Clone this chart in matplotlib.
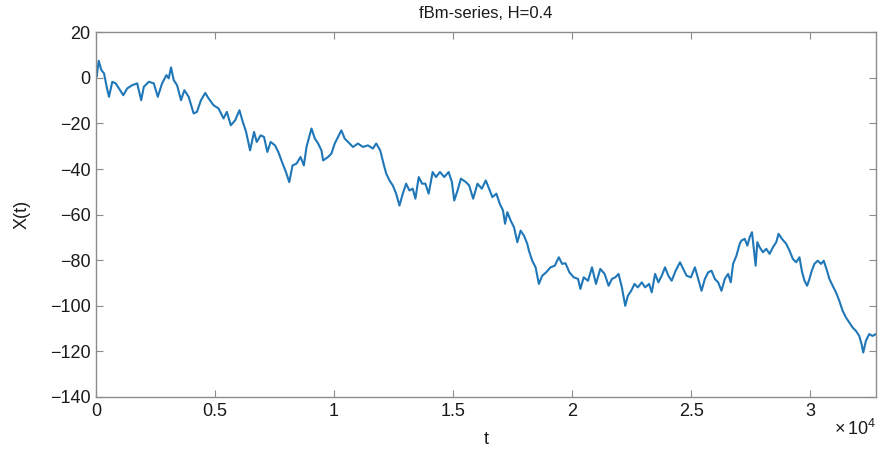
import matplotlib
matplotlib.use("Agg")
import matplotlib.pyplot as plt

# Valeurs (t, X(t))
t = [0, 28, 112, 223, 335, 446, 544, 683, 823, 962, 1144, 1311, 1520, 1729, 1897,
     2008, 2218, 2427, 2594, 2775, 2957, 3054, 3152, 3264, 3403, 3571, 3710, 3891,
     4100, 4240, 4407, 4588, 4728, 4937, 5146, 5356,
     5495, 5662, 5844, 6025, 6165, 6304, 6471, 6639, 6750, 6918, 7057, 7197, 7336,
     7518, 7657, 7838, 7978, 8117, 8257, 8424, 8591, 8731, 8842, 8954, 9051, 9191,
     9331, 9470, 9540, 9749, 9888, 10028, 10167, 10307, 10446, 10655,
     10795, 11004, 11213, 11423, 11632, 11771, 11939, 12078, 12190, 12329, 12469,
     12608, 12748, 12887, 13027, 13166, 13305, 13417, 13557, 13696, 13835, 13975,
     14142, 14282, 14449, 14631, 14812, 14951, 15049, 15188, 15328, 15537, 15676,
     15844, 16025, 16206,
     16374, 16513, 16653, 16820, 16960, 17099, 17183, 17280, 17420, 17559, 17699,
     17838, 17978, 18117, 18187, 18326, 18466, 18605, 18745, 18912, 19094, 19275,
     19442, 19582, 19721, 19888, 20070, 20251, 20349, 20488, 20669, 20837, 21004,
     21185, 21367, 21534,
     21674, 21813, 21953, 22092, 22232, 22343, 22483, 22622, 22762, 22929, 23068,
     23236, 23347, 23487, 23626, 23766, 23905, 24045, 24184, 24351, 24533, 24672,
     24812, 24993, 25160, 25300, 25439, 25579, 25718, 25858, 25997, 26137, 26276,
     26416, 26555, 26667, 26764, 26904, 27043,
     27113, 27252, 27364, 27462, 27559, 27643, 27712, 27782, 27880, 28019, 28159,
     28298, 28438, 28577, 28675, 28814, 28996, 29135, 29275, 29414, 29554, 29651,
     29763, 29874, 29972, 30070, 30181, 30321, 30460, 30572, 30711, 30809, 30948,
     31088, 31227, 31367, 31506, 31646, 31785, 31925, 32064, 32162, 32232, 32343,
     32483, 32622, 32768]

X = [1.0, 0.5, 7.5, 3.4, 2.0, -3.9, -8.3, -1.7, -2.4, -4.6, -7.6, -4.6, -3.2, -2.4, -9.8,
     -3.9, -1.7, -2.4, -8.3, -2.4, 1.2, -0.2, 4.6, -1.0, -3.2, -9.8, -5.4, -8.3,
     -15.6, -14.9, -9.8, -6.6, -9.0, -12.0, -13.4, -17.8,
     -14.9, -20.8, -18.6, -14.2, -19.3, -23.7, -31.8, -23.7, -28.1, -25.2, -25.9, -32.5,
     -28.1, -29.6, -32.5, -37.6, -41.3, -45.7, -38.4, -37.6, -34.7, -38.4, -30.3, -25.9,
     -22.2, -26.6, -28.8, -31.8, -36.2, -34.7, -33.2, -28.8, -25.9, -23.0, -26.6, -28.8,
     -30.3, -28.8, -30.3, -29.6, -31.0, -28.8, -31.8, -37.6, -42.0, -45.0, -47.2, -50.8,
     -56.0, -50.8, -46.4, -49.4, -48.6, -53.0, -43.5, -46.4, -46.4, -50.8, -41.3, -43.5,
     -41.3, -43.5, -41.3, -45.7, -53.8, -49.4, -44.2, -45.7, -47.2, -53.0, -46.4, -48.6,
     -45.0, -48.6, -52.3, -50.8, -55.2, -58.2, -64.0, -58.9, -62.6, -65.5, -72.1, -67.0,
     -69.2, -72.8, -75.8, -80.2, -83.1, -90.4, -86.8, -85.3, -83.1, -82.4, -78.7, -81.6,
     -81.3, -85.3, -87.5, -88.2, -92.6, -87.5, -89.0, -83.1, -90.4, -83.8, -86.0, -91.2,
     -88.2, -87.5, -86.0, -91.9, -100.0, -95.6, -93.4, -90.4, -91.9, -89.7, -91.9, -90.4,
     -94.1, -86.0, -89.7, -86.8, -83.1, -86.8, -89.0, -84.6, -80.9, -83.8, -86.8, -87.5,
     -83.1, -88.2, -93.4, -88.2, -85.3, -84.6, -88.2, -89.7, -93.4, -88.2, -86.0, -89.7,
     -81.6, -78.0, -72.8,
     -71.4, -70.6, -73.6, -69.9, -67.7, -75.8, -82.4, -72.1, -74.3, -76.5, -75.0, -77.2,
     -74.3, -72.1, -68.4, -70.6, -72.8, -75.8, -79.4, -80.9, -78.7, -84.6, -89.0, -91.2,
     -88.2, -84.6, -81.6, -80.2, -81.6, -80.2, -84.6, -88.2, -91.2, -94.1, -97.8, -102.2,
     -105.1, -107.3, -109.5, -111.0, -113.2, -116.8, -120.5, -115.4, -112.4, -113.2, -112.4]

xticks = [0, 5000, 10000, 15000, 20000, 25000, 30000]
xtick_labels = ["0", "0.5", "1", "1.5", "2", "2.5", "3"]
yticks = [20, 0, -20, -40, -60, -80, -100, -120, -140]
ytick_labels = ["20", "0", "\u221220", "\u221240", "\u221260", "\u221280",
                "\u2212100", "\u2212120", "\u2212140"]

plt.rcParams["font.family"] = ["Liberation Sans", "DejaVu Sans"]
plt.rcParams["mathtext.fontset"] = "custom"
plt.rcParams["mathtext.rm"] = "Liberation Sans"

fig = plt.figure(figsize=(8.86, 4.5), dpi=100)
ax = fig.add_axes([0.1084, 0.1178, 0.8803, 0.8104])

ax.plot(t, X, color="#1f77b8", linewidth=1.5)

ax.set_xlim(0, 32768)
ax.set_ylim(-140, 20)
ax.set_xticks(xticks)
ax.set_xticklabels(xtick_labels)
ax.set_yticks(yticks)
ax.set_yticklabels(ytick_labels)

ax.tick_params(direction="in", length=5, width=0.8, top=True, right=True,
               labelsize=13, colors="#8c8c8c", labelcolor="#1a1a1a", pad=4)
for s in ax.spines.values():
    s.set_color("#8c8c8c")
    s.set_linewidth(1.0)

ax.set_title("fBm-series, H=0.4", fontsize=12, color="#1a1a1a", pad=10.5)
ax.set_xlabel("t", fontsize=13, color="#1a1a1a", labelpad=8)
ax.set_ylabel("X(t)", fontsize=13, color="#1a1a1a", labelpad=14)
ax.text(1.0, -0.06, r"$\times\,10^4$", transform=ax.transAxes, ha="right",
        va="top", fontsize=13, color="#1a1a1a")

fig.savefig("out.png", dpi=100)
